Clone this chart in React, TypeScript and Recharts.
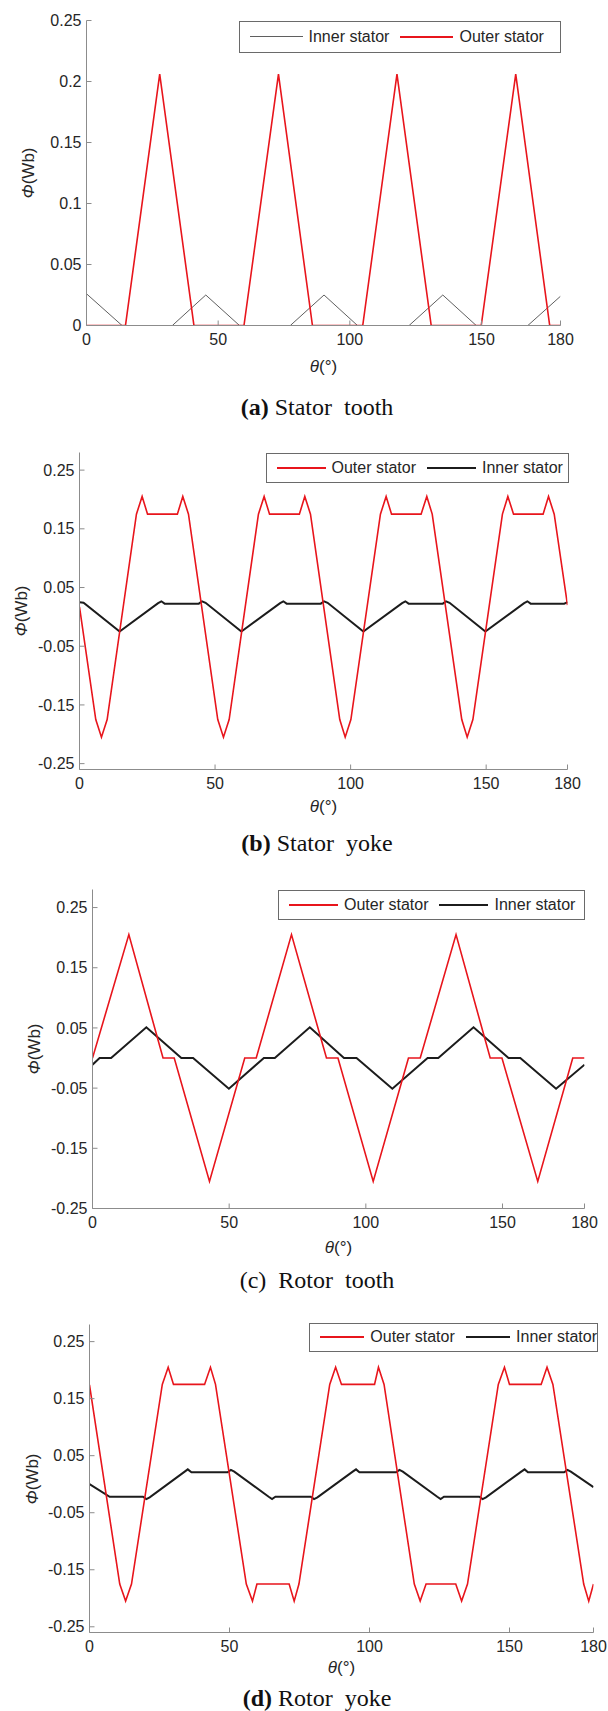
import React from 'react';
import { LineChart, Line, XAxis, YAxis, Legend } from 'recharts';

const SANS = '"Liberation Sans", Arial, Helvetica, sans-serif';
const SERIF = '"Liberation Serif", "Times New Roman", serif';
const RED = '#e8151c';
const BLACK = '#1c1c1c';
const GRAY_LINE = '#5f5f5f';
const FRAME = '#8c8c8c';
const TEXT = '#262626';

// ---------- shared ticks ----------
const thetaTicks = [0, 50, 100, 150, 180];
const aFluxTicks = [0, 0.05, 0.1, 0.15, 0.2, 0.25];
const fluxTicks = [-0.25, -0.15, -0.05, 0.05, 0.15, 0.25];

// ---------- (a) Stator tooth ----------
const aOuterTheta = [0, 14.8, 27.8, 40.8, 59.8, 72.9, 85.8, 104.9, 117.9, 130.9, 149.9, 163.0, 175.9, 180];
const aOuterFlux = [0, 0, 0.206, 0, 0, 0.206, 0, 0, 0.206, 0, 0, 0.206, 0, 0];
const aInnerTheta = [0, 13.5, 32.6, 45.3, 58.1, 77.4, 90.2, 102.9, 122.5, 135.3, 148.0, 167.6, 180];
const aInnerFlux = [0.026, 0, 0, 0.025, 0, 0, 0.025, 0, 0, 0.025, 0, 0, 0.024];

// ---------- (b) Stator yoke ----------
const bOuterTheta = [
  0, 6.0, 8.1, 10.2, 21.0, 23.1, 25.1, 36.1, 38.1, 40.2,
  51.0, 53.1, 55.2, 66.0, 68.1, 70.1, 81.1, 83.1, 85.2,
  96.0, 98.0, 100.1, 111.0, 113.1, 115.1, 126.0, 128.1, 130.1,
  141.0, 143.0, 145.1, 156.0, 158.0, 160.1, 171.0, 173.0, 175.1, 180,
];
const bOuterFlux = [
  0.017, -0.175, -0.205, -0.175, 0.175, 0.205, 0.175, 0.175, 0.205, 0.175,
  -0.175, -0.205, -0.175, 0.175, 0.205, 0.175, 0.175, 0.205, 0.175,
  -0.175, -0.205, -0.175, 0.175, 0.205, 0.175, 0.175, 0.205, 0.175,
  -0.175, -0.205, -0.175, 0.175, 0.205, 0.175, 0.175, 0.205, 0.175, 0.02,
];
const bInnerTheta = [
  0, 1.5, 14.8, 29.0, 30.2, 31.4, 44.0, 45.2, 46.5,
  59.7, 74.0, 75.2, 76.4, 89.0, 90.2, 91.5,
  104.7, 119.0, 120.2, 121.4, 134.0, 135.2, 136.5,
  149.7, 164.0, 165.2, 166.4, 178.8, 180,
];
const bInnerFlux = [
  0.025, 0.024, -0.025, 0.0235, 0.0265, 0.0225, 0.0225, 0.0265, 0.024,
  -0.025, 0.0235, 0.0265, 0.0225, 0.0225, 0.0265, 0.024,
  -0.025, 0.0235, 0.0265, 0.0225, 0.0225, 0.0265, 0.024,
  -0.025, 0.0235, 0.0265, 0.0225, 0.0225, 0.025,
];

// ---------- (c) Rotor tooth ----------
const cOuterTheta = [0, 13.3, 25.8, 29.9, 42.8, 55.7, 59.9, 72.8, 85.6, 89.8, 102.7, 115.6, 119.9, 133.0, 145.5, 149.8, 162.9, 175.7, 180];
const cOuterFlux = [0, 0.205, 0, 0, -0.205, 0, 0, 0.205, 0, 0, -0.205, 0, 0, 0.205, 0, 0, -0.205, 0, 0];
const cInnerTheta = [0, 2.6, 6.8, 19.7, 32.5, 36.8, 49.9, 62.7, 66.7, 79.5, 92.0, 96.6, 109.7, 122.6, 126.5, 139.4, 152.2, 156.5, 169.6, 180];
const cInnerFlux = [-0.011, 0, 0, 0.051, 0, 0, -0.051, 0, 0, 0.051, 0, 0, -0.051, 0, 0, 0.051, 0, 0, -0.051, -0.011];

// ---------- (d) Rotor yoke ----------
const dOuterTheta = [
  0, 10.8, 12.9, 15.0, 26.0, 28.1, 30.0, 41.1, 43.2, 45.0,
  56.0, 58.2, 59.8, 71.3, 73.1, 74.8, 85.8, 87.9, 90.0, 101.8, 103.2, 105.2,
  116.0, 118.1, 120.2, 130.8, 132.9, 135.0, 146.0, 148.2, 150.0, 161.3, 163.4, 165.5,
  176.5, 178.3, 180,
];
const dOuterFlux = [
  0.174, -0.175, -0.205, -0.175, 0.175, 0.205, 0.175, 0.175, 0.205, 0.175,
  -0.175, -0.205, -0.175, -0.175, -0.205, -0.175, 0.175, 0.205, 0.175, 0.175, 0.205, 0.175,
  -0.175, -0.205, -0.175, -0.175, -0.205, -0.175, 0.175, 0.205, 0.175, 0.175, 0.205, 0.175,
  -0.175, -0.205, -0.175,
];
const dInnerTheta = [
  0, 7.2, 19.1, 20.3, 21.5, 34.0, 35.1, 36.4, 49.3, 50.5, 51.7,
  64.0, 65.2, 66.4, 79.0, 80.2, 81.4, 94.0, 95.2, 96.4, 109.5, 110.7, 111.9,
  124.2, 125.4, 126.6, 139.2, 140.4, 141.6, 154.2, 155.4, 156.6, 169.5, 170.7, 171.9, 180,
];
const dInnerFlux = [
  0, -0.022, -0.022, -0.026, -0.023, 0.022, 0.026, 0.021, 0.021, 0.025, 0.022,
  -0.022, -0.026, -0.022, -0.022, -0.026, -0.023, 0.022, 0.026, 0.021, 0.021, 0.025, 0.022,
  -0.022, -0.026, -0.022, -0.022, -0.026, -0.023, 0.022, 0.026, 0.021, 0.021, 0.025, 0.022, -0.005,
];

type Row = { theta: number; outer: number | null; inner: number | null };

function mergeSeries(ot: number[], ov: number[], it: number[], iv: number[]): Row[] {
  const rows = new Map<number, Row>();
  ot.forEach((t, i) => {
    const r = rows.get(t) ?? { theta: t, outer: null, inner: null };
    r.outer = ov[i];
    rows.set(t, r);
  });
  it.forEach((t, i) => {
    const r = rows.get(t) ?? { theta: t, outer: null, inner: null };
    r.inner = iv[i];
    rows.set(t, r);
  });
  return Array.from(rows.values()).sort((a, b) => a.theta - b.theta);
}

type LegendItem = { label: string; color: string; width: number };

type PanelProps = {
  plotLeft: number;
  plotRight: number;
  plotTop: number;
  plotBottom: number;
  yDomain: [number, number];
  yTicks: number[];
  data: Row[];
  innerColor: string;
  innerWidth: number;
  legendItems: LegendItem[];
  legendBox: { left: number; top: number; width: number; height: number };
  lineLen: number;
  yLabelX: number;
  xLabelY: number;
  captionY: number;
  captionTag: string;
  captionBold: boolean;
  captionText: string;
};

function Panel(p: PanelProps) {
  const chartTop = Math.floor(p.plotTop) - 10;
  const mTop = p.plotTop - chartTop;
  const h = mTop + (p.plotBottom - p.plotTop) + 30;
  const tickStyle = { fill: TEXT, fontSize: 16, fontFamily: SANS };
  const plotCenterX = (p.plotLeft + p.plotRight) / 2;
  const plotCenterY = (p.plotTop + p.plotBottom) / 2;

  const renderLegend = () => (
    <div
      style={{
        boxSizing: 'border-box',
        width: p.legendBox.width,
        height: p.legendBox.height,
        border: '1px solid #6a6a6a',
        background: '#fff',
        display: 'flex',
        alignItems: 'center',
        paddingLeft: 10,
        overflow: 'hidden',
        whiteSpace: 'nowrap',
        fontFamily: SANS,
        fontSize: 16,
        color: TEXT,
      }}
    >
      {p.legendItems.map((it, i) => (
        <React.Fragment key={it.label}>
          <span
            style={{
              display: 'inline-block',
              width: p.lineLen,
              height: 0,
              borderTop: `${it.width}px solid ${it.color}`,
              marginLeft: i === 0 ? 0 : 11,
            }}
          />
          <span style={{ marginLeft: 6 }}>{it.label}</span>
        </React.Fragment>
      ))}
    </div>
  );

  return (
    <>
      <div style={{ position: 'absolute', left: 0, top: chartTop }}>
        <LineChart
          width={608}
          height={h}
          data={p.data}
          margin={{ top: mTop, right: 608 - p.plotRight, bottom: 0, left: 0 }}
        >
          <XAxis
            dataKey="theta"
            type="number"
            domain={[0, 180]}
            ticks={thetaTicks}
            allowDataOverflow
            interval={0}
            height={30}
            tickSize={-5}
            tickMargin={13.5}
            axisLine={{ stroke: FRAME }}
            tickLine={{ stroke: FRAME }}
            tick={tickStyle}
          />
          <XAxis
            xAxisId="top"
            orientation="top"
            dataKey="theta"
            type="number"
            domain={[0, 180]}
            ticks={thetaTicks}
            allowDataOverflow
            interval={0}
            height={0}
            tickSize={-5}
            tick={false}
            axisLine={{ stroke: FRAME }}
            tickLine={{ stroke: FRAME }}
          />
          <YAxis
            type="number"
            domain={p.yDomain}
            ticks={p.yTicks}
            allowDataOverflow
            interval={0}
            width={p.plotLeft}
            tickSize={-5}
            tickMargin={10}
            axisLine={{ stroke: FRAME }}
            tickLine={{ stroke: FRAME }}
            tick={tickStyle}
          />
          <YAxis
            yAxisId="right"
            orientation="right"
            type="number"
            domain={p.yDomain}
            ticks={p.yTicks}
            allowDataOverflow
            interval={0}
            width={0}
            tickSize={-5}
            tick={false}
            axisLine={{ stroke: FRAME }}
            tickLine={{ stroke: FRAME }}
          />
          <Legend
            layout="vertical"
            verticalAlign="middle"
            align="center"
            content={renderLegend}
            wrapperStyle={{
              left: p.legendBox.left,
              top: p.legendBox.top - chartTop,
              width: p.legendBox.width,
              height: p.legendBox.height,
            }}
          />
          <Line
            dataKey="inner"
            type="linear"
            stroke={p.innerColor}
            strokeWidth={p.innerWidth}
            dot={false}
            connectNulls
            isAnimationActive={false}
          />
          <Line
            dataKey="outer"
            type="linear"
            stroke={RED}
            strokeWidth={1.6}
            dot={false}
            connectNulls
            isAnimationActive={false}
          />
        </LineChart>
      </div>
      <div
        style={{
          position: 'absolute',
          left: p.yLabelX,
          top: plotCenterY,
          transform: 'translate(-50%, -50%) rotate(-90deg)',
          fontFamily: SANS,
          fontSize: 17,
          color: TEXT,
          whiteSpace: 'nowrap',
        }}
      >
        <i>Φ</i>(Wb)
      </div>
      <div
        style={{
          position: 'absolute',
          left: plotCenterX,
          top: p.xLabelY,
          transform: 'translate(-50%, -50%)',
          fontFamily: SANS,
          fontSize: 17,
          color: TEXT,
          whiteSpace: 'nowrap',
        }}
      >
        <i>θ</i>(°)
      </div>
      <div
        style={{
          position: 'absolute',
          left: 317,
          top: p.captionY,
          transform: 'translate(-50%, -50%)',
          fontFamily: SERIF,
          fontSize: 24,
          color: '#111',
          whiteSpace: 'pre',
        }}
      >
        <span style={{ fontWeight: p.captionBold ? 'bold' : 'normal' }}>{p.captionTag}</span>
        {' ' + p.captionText}
      </div>
    </>
  );
}

const innerItem = (color: string, w: number): LegendItem => ({ label: 'Inner stator', color, width: w });
const outerItem: LegendItem = { label: 'Outer stator', color: RED, width: 2 };

export default function App() {
  const dataA = mergeSeries(aOuterTheta, aOuterFlux, aInnerTheta, aInnerFlux);
  const dataB = mergeSeries(bOuterTheta, bOuterFlux, bInnerTheta, bInnerFlux);
  const dataC = mergeSeries(cOuterTheta, cOuterFlux, cInnerTheta, cInnerFlux);
  const dataD = mergeSeries(dOuterTheta, dOuterFlux, dInnerTheta, dInnerFlux);

  return (
    <div style={{ position: 'absolute', left: 0, top: 0, width: 608, height: 1711, background: '#fff', overflow: 'hidden' }}>
      <Panel
        plotLeft={86.5}
        plotRight={560.5}
        plotTop={20.5}
        plotBottom={325.5}
        yDomain={[0, 0.25]}
        yTicks={aFluxTicks}
        data={dataA}
        innerColor={GRAY_LINE}
        innerWidth={1}
        legendItems={[innerItem(GRAY_LINE, 1), outerItem]}
        legendBox={{ left: 238.5, top: 20.5, width: 322, height: 32 }}
        lineLen={53}
        yLabelX={29}
        xLabelY={366.5}
        captionY={406.5}
        captionTag="(a)"
        captionBold
        captionText="Stator  tooth"
      />
      <Panel
        plotLeft={79.5}
        plotRight={567.5}
        plotTop={452.5}
        plotBottom={769.5}
        yDomain={[-0.26, 0.28]}
        yTicks={fluxTicks}
        data={dataB}
        innerColor={BLACK}
        innerWidth={2}
        legendItems={[outerItem, innerItem(BLACK, 2)]}
        legendBox={{ left: 265.5, top: 452.5, width: 303, height: 30 }}
        lineLen={49}
        yLabelX={22}
        xLabelY={806.5}
        captionY={843}
        captionTag="(b)"
        captionBold
        captionText="Stator  yoke"
      />
      <Panel
        plotLeft={92.5}
        plotRight={584.5}
        plotTop={889.5}
        plotBottom={1208.5}
        yDomain={[-0.25, 0.28]}
        yTicks={fluxTicks}
        data={dataC}
        innerColor={BLACK}
        innerWidth={2}
        legendItems={[outerItem, innerItem(BLACK, 2)]}
        legendBox={{ left: 278, top: 889.5, width: 307, height: 30 }}
        lineLen={49}
        yLabelX={35}
        xLabelY={1248}
        captionY={1280}
        captionTag="(c)"
        captionBold={false}
        captionText=" Rotor  tooth"
      />
      <Panel
        plotLeft={89.5}
        plotRight={593.5}
        plotTop={1324.5}
        plotBottom={1632.5}
        yDomain={[-0.26, 0.28]}
        yTicks={fluxTicks}
        data={dataD}
        innerColor={BLACK}
        innerWidth={2}
        legendItems={[outerItem, innerItem(BLACK, 2)]}
        legendBox={{ left: 309, top: 1322.5, width: 289, height: 29 }}
        lineLen={46}
        yLabelX={33}
        xLabelY={1668}
        captionY={1698}
        captionTag="(d)"
        captionBold
        captionText="Rotor  yoke"
      />
    </div>
  );
}
